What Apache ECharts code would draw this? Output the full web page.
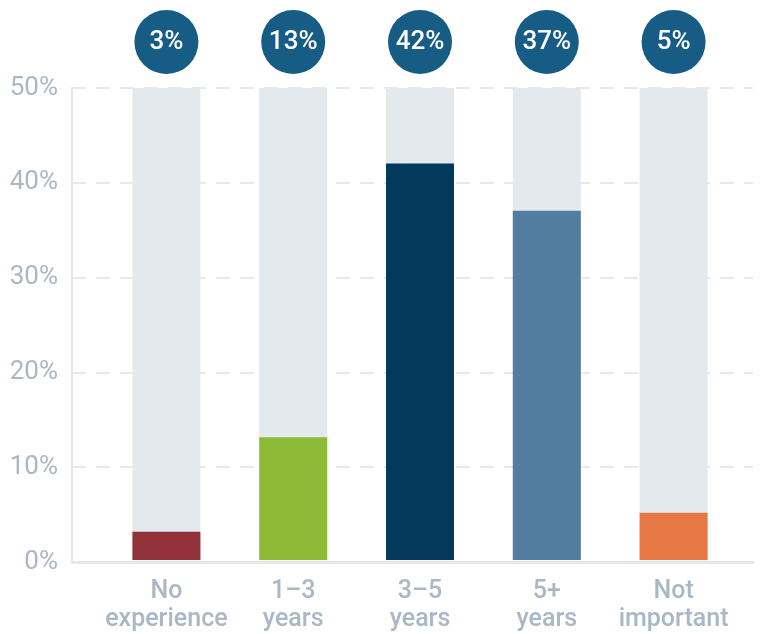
<!DOCTYPE html>
<html>
<head>
<meta charset="utf-8">
<script src="https://cdn.jsdelivr.net/npm/echarts@6/dist/echarts.min.js"></script>
<style>
  html, body { margin: 0; padding: 0; background: #ffffff; }
  #chart { width: 765px; height: 634px; }
</style>
</head>
<body>
<div id="chart"></div>
<script>
// Share of respondents by required experience
const categories = ['No\nexperience', '1\u20133\nyears', '3\u20135\nyears', '5+\nyears', 'Not\nimportant'];
const values = [3, 13, 42, 37, 5];
const barColors = ['#93323a', '#8dbb37', '#033a5c', '#527da1', '#e67846'];
const yTicks = [0, 10, 20, 30, 40, 50];
const scaleMax = yTicks[yTicks.length - 1];

const axisGray = '#aab8c6';
const lineGray = '#e5e9ee';
const fontFamily = 'Roboto, "Noto Sans", sans-serif';

const chart = echarts.init(document.getElementById('chart'), null, { renderer: 'canvas' });

chart.setOption({
  animation: false,
  grid: [
    // frame: y axis, dashed gridlines and baseline
    { left: 72, right: 12, top: 88, bottom: 72 },
    // bars
    { left: 103, width: 634, top: 88, bottom: 72 }
  ],
  xAxis: [
    {
      gridIndex: 0, type: 'category', data: [''],
      axisLine: { show: true, lineStyle: { color: lineGray, width: 3 } },
      axisTick: { show: false }, axisLabel: { show: false }, splitLine: { show: false }
    },
    {
      gridIndex: 1, type: 'category', data: categories,
      axisLine: { show: false }, axisTick: { show: false },
      axisLabel: {
        interval: 0,
        color: axisGray, fontSize: 25, fontWeight: 500, fontFamily,
        lineHeight: 28, margin: 18
      }
    }
  ],
  yAxis: [
    {
      gridIndex: 0, type: 'value', min: 0, max: scaleMax, interval: 10,
      axisLine: { show: true, lineStyle: { color: lineGray, width: 2 } },
      axisTick: { show: false },
      axisLabel: {
        color: axisGray, fontSize: 26, fontFamily, margin: 14,
        padding: [9, 0, 0, 0],
        formatter: v => v + '%'
      },
      splitLine: {
        show: true,
        lineStyle: { color: lineGray, width: 2, type: [14, 10] }
      }
    },
    {
      gridIndex: 1, type: 'value', min: 0, max: scaleMax, show: false
    }
  ],
  series: [
    {
      // full-height track behind each bar, carrying the value bubble
      type: 'bar', xAxisIndex: 1, yAxisIndex: 1,
      data: categories.map(() => scaleMax),
      barWidth: 68, barGap: '-100%',
      itemStyle: { color: '#e4e9ee' },
      silent: true,
      label: {
        show: true, position: 'top', distance: 14,
        formatter: p => values[p.dataIndex] + '%',
        color: '#ffffff', fontSize: 26, fontWeight: 500, fontFamily,
        backgroundColor: '#175c85',
        width: 64, height: 64, lineHeight: 64, borderRadius: 32,
        align: 'center', padding: 0
      }
    },
    {
      type: 'bar', xAxisIndex: 1, yAxisIndex: 1,
      data: values.map((v, i) => ({ value: v, itemStyle: { color: barColors[i] } })),
      barWidth: 68, barGap: '-100%'
    }
  ]
});
</script>
</body>
</html>
